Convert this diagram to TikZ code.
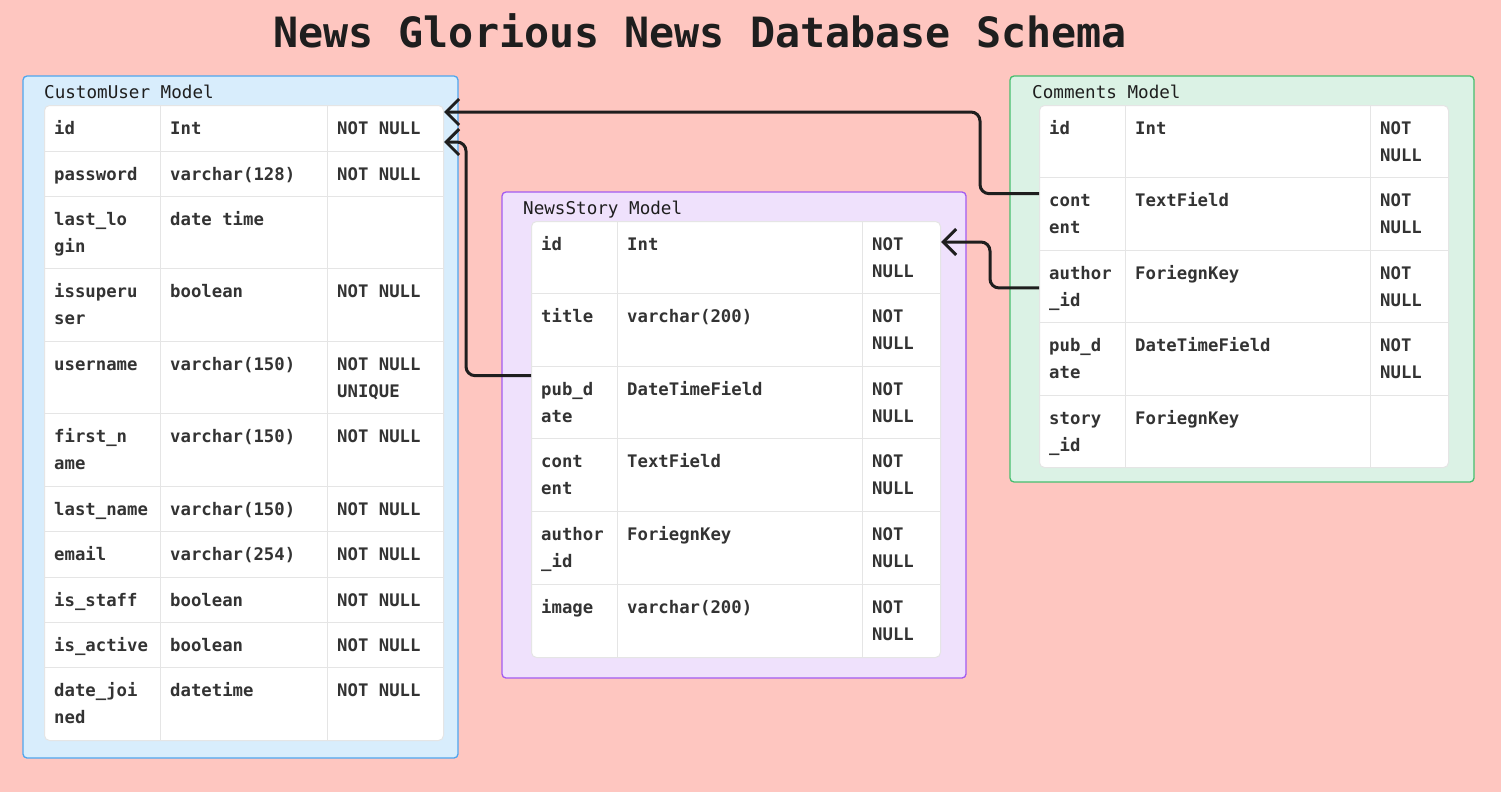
\documentclass[tikz,border=0pt]{standalone}
\usepackage{fontspec}
\setmonofont{DejaVu Sans Mono}
\usetikzlibrary{arrows.meta}

\definecolor{bg}{HTML}{FEC6C0}
\definecolor{cufill}{HTML}{D8EDFC}
\definecolor{culine}{HTML}{4FA6EE}
\definecolor{nsfill}{HTML}{EFE1FC}
\definecolor{nsline}{HTML}{A35BF0}
\definecolor{cmfill}{HTML}{DBF2E5}
\definecolor{cmline}{HTML}{46BE6E}
\definecolor{gridline}{HTML}{E5E5E5}
\definecolor{celltext}{HTML}{333333}
\definecolor{ink}{HTML}{1E1E1E}

\tikzset{
  model/.style={rounded corners=4pt, line width=1.3pt},
  tablebox/.style={draw=gridline, fill=white, rounded corners=5pt, line width=1pt, anchor=north west, inner sep=0pt},
  grid/.style={draw=gridline, line width=1pt},
  cell/.style={anchor=base west, inner sep=0pt, text width=150pt, text=celltext,
    font=\ttfamily\bfseries\fontsize{17.3}{27}\selectfont,
    execute at begin node={\spaceskip=0.602em\relax\xspaceskip=0.602em\relax}},
  modelname/.style={anchor=base west, inner sep=0pt, text=ink, font=\ttfamily\fontsize{17.6}{20}\selectfont},
  link/.style={draw=ink, line width=3pt, rounded corners=9pt, -{Straight Barb[length=13pt,width=26pt]}}
}

\begin{document}
\begin{tikzpicture}[x=1pt,y=-1pt]
  \fill[bg] (0,0) rectangle (1501,792);
  \useasboundingbox (0,0) rectangle (1501,792);

  \node[anchor=base, inner sep=0pt, text=ink, font=\ttfamily\bfseries\fontsize{41.7}{48}\selectfont] (heading) at (700,48) {News Glorious News Database Schema};

  % CustomUser
  \draw[model, fill=cufill, draw=culine] (23,76) rectangle (458,758);
  \node[modelname] (cuname) at (44,98) {CustomUser Model};
  \node[tablebox, minimum width=399pt, minimum height=635pt] (cutab) at (44,105) {};
  \foreach \t in {151,196,268,341,413,486,531,577,622,667}
    \draw[grid] (44,\t) -- (443,\t);
  \foreach \x in {160,327}
    \draw[grid] (\x,105) -- (\x,740);
  \foreach \t/\n/\ty/\c [count=\i] in {105/id/Int/NOT NULL, 151/password/varchar(128)/NOT NULL,
      196/{last\_lo\\gin}/date time/{}, 268/{issuperu\\ser}/boolean/NOT NULL,
      341/username/varchar(150)/{NOT NULL\\UNIQUE}, 413/{first\_n\\ame}/varchar(150)/NOT NULL,
      486/last\_name/varchar(150)/NOT NULL, 531/email/varchar(254)/NOT NULL,
      577/is\_staff/boolean/NOT NULL, 622/is\_active/boolean/NOT NULL,
      667/{date\_joi\\ned}/datetime/NOT NULL}
  {
    \node[cell] (cu-\i) at (54,\t+29) {\n};
    \node[cell] (cu-\i-t) at (170,\t+29) {\ty};
    \node[cell] (cu-\i-c) at (337,\t+29) {\c};
  }

  % NewsStory
  \draw[model, fill=nsfill, draw=nsline] (502,192) rectangle (966,678);
  \node[modelname] (nsname) at (523,214) {NewsStory Model};
  \node[tablebox, minimum width=409pt, minimum height=436pt] (nstab) at (531,221) {};
  \foreach \t in {293,366,438,511,584}
    \draw[grid] (531,\t) -- (940,\t);
  \foreach \x in {617,862}
    \draw[grid] (\x,221) -- (\x,657);
  \foreach \t/\n/\ty/\c [count=\i] in {221/id/Int/{NOT\\NULL}, 293/title/varchar(200)/{NOT\\NULL},
      366/{pub\_d\\ate}/DateTimeField/{NOT\\NULL}, 438/{cont\\ent}/TextField/{NOT\\NULL},
      511/{author\\\_id}/ForiegnKey/{NOT\\NULL}, 584/image/varchar(200)/{NOT\\NULL}}
  {
    \node[cell] (ns-\i) at (541,\t+29) {\n};
    \node[cell] (ns-\i-t) at (627,\t+29) {\ty};
    \node[cell] (ns-\i-c) at (872,\t+29) {\c};
  }

  % Comments
  \draw[model, fill=cmfill, draw=cmline] (1010,76) rectangle (1474,482);
  \node[modelname] (cmname) at (1032,98) {Comments Model};
  \node[tablebox, minimum width=409pt, minimum height=362pt] (cmtab) at (1039,105) {};
  \foreach \t in {177,250,322,395}
    \draw[grid] (1039,\t) -- (1448,\t);
  \foreach \x in {1125,1370}
    \draw[grid] (\x,105) -- (\x,467);
  \foreach \t/\n/\ty/\c [count=\i] in {105/id/Int/{NOT\\NULL}, 177/{cont\\ent}/TextField/{NOT\\NULL},
      250/{author\\\_id}/ForiegnKey/{NOT\\NULL}, 322/{pub\_d\\ate}/DateTimeField/{NOT\\NULL},
      395/{story\\\_id}/ForiegnKey/{}}
  {
    \node[cell] (cm-\i) at (1049,\t+29) {\n};
    \node[cell] (cm-\i-t) at (1135,\t+29) {\ty};
    \node[cell] (cm-\i-c) at (1380,\t+29) {\c};
  }

  % links
  \draw[link] (cmtab.west |- cm-2.north) -- ++(-59,0) |- ([yshift=-7pt]cutab.north east);
  \draw[link] ([yshift=6pt]ns-3.north -| nstab.west) -- ++(-65,0) |- ([yshift=-37pt]cutab.north east);
  \draw[link] (cmtab.west |- cm-3) -- ++(-49,0) |- ([yshift=-21pt]nstab.north east);
\end{tikzpicture}
\end{document}
